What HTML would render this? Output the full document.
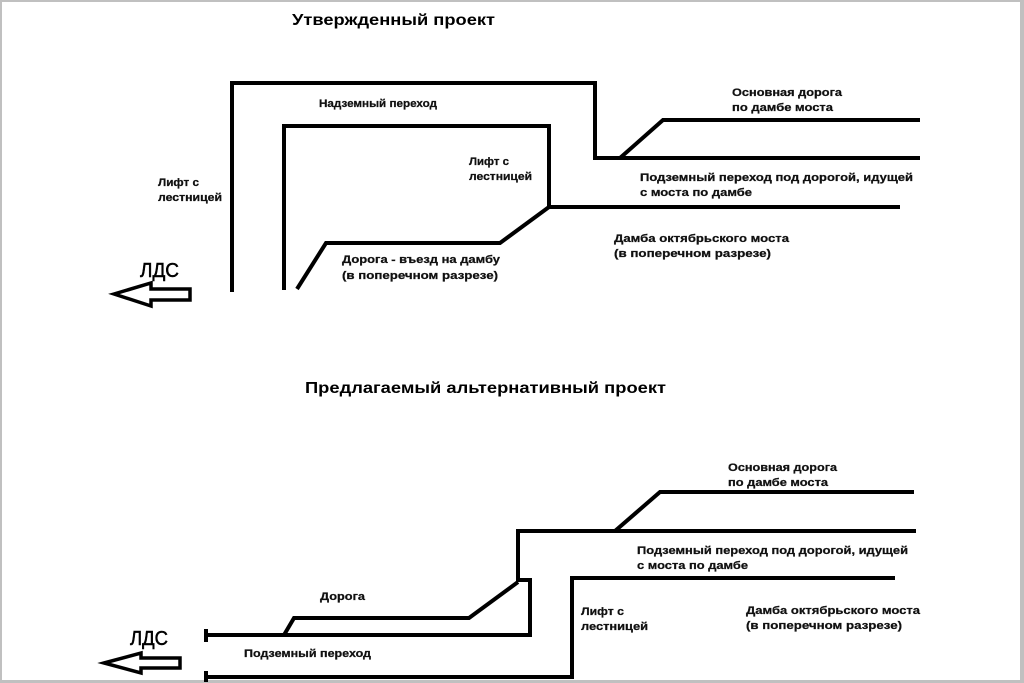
<!DOCTYPE html>
<html>
<head>
<meta charset="utf-8">
<style>
  html, body { margin: 0; padding: 0; background: #fff; }
  body { width: 1024px; height: 683px; overflow: hidden; }
  svg { display: block; }
  .t { font-family: "Liberation Sans", "DejaVu Sans", sans-serif; font-weight: bold; font-size: 11px; fill: #111; stroke: #111; stroke-width: 0.25px; }
  .h { font-family: "Liberation Sans", "DejaVu Sans", sans-serif; font-weight: bold; font-size: 16px; fill: #000; }
  .l { font-family: "Liberation Sans", "DejaVu Sans", sans-serif; font-size: 20px; fill: #000; stroke: #000; stroke-width: 0.5px; }
</style>
</head>
<body>
<svg width="1024" height="683" viewBox="0 0 1024 683" xmlns="http://www.w3.org/2000/svg">
  <rect x="0" y="0" width="1024" height="683" fill="#fff"/>
  <!-- frame -->
  <rect x="0" y="0" width="1024" height="2" fill="#c0c0c0"/>
  <rect x="0" y="680" width="1024" height="3" fill="#c0c0c0"/>
  <rect x="0" y="0" width="2" height="683" fill="#c0c0c0"/>
  <rect x="1020" y="0" width="4" height="683" fill="#c0c0c0"/>

  <!-- ===== TOP DIAGRAM ===== -->
  <text class="h" x="292" y="25" textLength="203" lengthAdjust="spacingAndGlyphs">Утвержденный проект</text>

  <g fill="none" stroke="#000" stroke-width="4" stroke-linejoin="miter">
    <path d="M232,292 V83 H595 V158 H920"/>
    <path d="M620,158 L663,120 H920"/>
    <path d="M284,290 V126 H549 V207 H900"/>
    <path d="M297,289 L326,243 H500 L549,207"/>
  </g>
  <!-- arrow top -->
  <polygon points="114,294 151,283 151,289 190,289 190,300 151,300 151,306" fill="#fff" stroke="#000" stroke-width="3.5" stroke-linejoin="miter"/>
  <text class="l" x="140" y="277" textLength="39" lengthAdjust="spacingAndGlyphs">ЛДС</text>

  <text class="t" x="319" y="107" textLength="118" lengthAdjust="spacingAndGlyphs">Надземный переход</text>
  <text class="t" x="158" y="186" textLength="41" lengthAdjust="spacingAndGlyphs">Лифт с</text>
  <text class="t" x="158" y="201" textLength="64" lengthAdjust="spacingAndGlyphs">лестницей</text>
  <text class="t" x="469" y="165" textLength="40" lengthAdjust="spacingAndGlyphs">Лифт с</text>
  <text class="t" x="469" y="180" textLength="63" lengthAdjust="spacingAndGlyphs">лестницей</text>
  <text class="t" x="342" y="263" textLength="158" lengthAdjust="spacingAndGlyphs">Дорога - въезд на дамбу</text>
  <text class="t" x="342" y="279" textLength="156" lengthAdjust="spacingAndGlyphs">(в поперечном разрезе)</text>
  <text class="t" x="732" y="96" textLength="110" lengthAdjust="spacingAndGlyphs">Основная дорога</text>
  <text class="t" x="732" y="111" textLength="101" lengthAdjust="spacingAndGlyphs">по дамбе моста</text>
  <text class="t" x="640" y="181" textLength="273" lengthAdjust="spacingAndGlyphs">Подземный переход под дорогой, идущей</text>
  <text class="t" x="640" y="196" textLength="112" lengthAdjust="spacingAndGlyphs">с моста по дамбе</text>
  <text class="t" x="614" y="242" textLength="175" lengthAdjust="spacingAndGlyphs">Дамба октябрьского моста</text>
  <text class="t" x="614" y="257" textLength="157" lengthAdjust="spacingAndGlyphs">(в поперечном разрезе)</text>

  <!-- ===== BOTTOM DIAGRAM ===== -->
  <text class="h" x="305" y="393" textLength="361" lengthAdjust="spacingAndGlyphs">Предлагаемый альтернативный проект</text>

  <g fill="none" stroke="#000" stroke-width="4" stroke-linejoin="miter">
    <path d="M206,629 V642"/>
    <path d="M206,635 H530 V580 H518 V531 H916"/>
    <path d="M284,635 L294,618 H469 L518,582"/>
    <path d="M615,531 L660,492 H914"/>
    <path d="M206,671 V682"/>
    <path d="M206,677 H572 V578 H895"/>
  </g>
  <!-- arrow bottom -->
  <polygon points="104,663 141,653 141,658 180,658 180,668 141,668 141,673" fill="#fff" stroke="#000" stroke-width="3.5" stroke-linejoin="miter"/>
  <text class="l" x="130" y="645" textLength="38" lengthAdjust="spacingAndGlyphs">ЛДС</text>

  <text class="t" x="320" y="600" textLength="45" lengthAdjust="spacingAndGlyphs">Дорога</text>
  <text class="t" x="244" y="657" textLength="127" lengthAdjust="spacingAndGlyphs">Подземный переход</text>
  <text class="t" x="728" y="471" textLength="109" lengthAdjust="spacingAndGlyphs">Основная дорога</text>
  <text class="t" x="728" y="486" textLength="100" lengthAdjust="spacingAndGlyphs">по дамбе моста</text>
  <text class="t" x="637" y="554" textLength="271" lengthAdjust="spacingAndGlyphs">Подземный переход под дорогой, идущей</text>
  <text class="t" x="637" y="569" textLength="111" lengthAdjust="spacingAndGlyphs">с моста по дамбе</text>
  <text class="t" x="581" y="615" textLength="43" lengthAdjust="spacingAndGlyphs">Лифт с</text>
  <text class="t" x="581" y="630" textLength="67" lengthAdjust="spacingAndGlyphs">лестницей</text>
  <text class="t" x="746" y="614" textLength="174" lengthAdjust="spacingAndGlyphs">Дамба октябрьского моста</text>
  <text class="t" x="746" y="629" textLength="156" lengthAdjust="spacingAndGlyphs">(в поперечном разрезе)</text>
</svg>
</body>
</html>
